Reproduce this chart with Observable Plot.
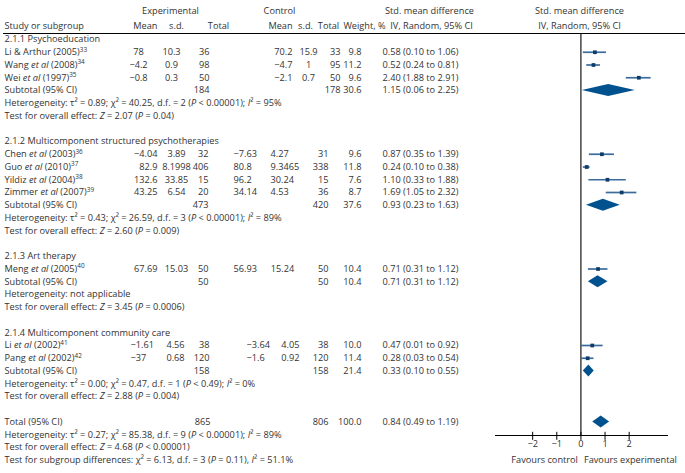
<!DOCTYPE html>
<html><head><meta charset="utf-8">
<script src="https://cdn.jsdelivr.net/npm/d3@7"></script>
<script src="https://cdn.jsdelivr.net/npm/@observablehq/plot@0.6"></script>
<style>
body{margin:0;background:#fff}
#chart{width:685px;height:473px}
</style>
</head><body><div id="chart"></div>
<script>
// ---------------- DATA ----------------
const groupNames = ["2.1.1 Psychoeducation", "2.1.2 Multicomponent structured psychotherapies", "2.1.3 Art therapy", "2.1.4 Multicomponent community care"];
const studyNames = ["Li & Arthur (2005)", "Wang et al (2008)", "Wei et al (1997)", "Chen et al (2003)", "Guo et al (2010)", "Yildiz et al (2004)", "Zimmer et al (2007)", "Meng et al (2005)", "Li et al (2002)", "Pang et al (2002)"];
const studyRefs = [33, 34, 35, 36, 37, 38, 39, 40, 41, 42];
const studyGroup = [0, 0, 0, 1, 1, 1, 1, 2, 3, 3];
const expMean = [78, -4.2, -0.8, -4.04, 82.9, 132.6, 43.25, 67.69, -1.61, -37];
const expSd = [10.3, 0.9, 0.3, 3.89, 8.1998, 33.85, 6.54, 15.03, 4.56, 0.68];
const expN = [36, 98, 50, 32, 406, 15, 20, 50, 38, 120];
const ctlMean = [70.2, -4.7, -2.1, -7.63, 80.8, 96.2, 34.14, 56.93, -3.64, -1.6];
const ctlSd = [15.9, 1, 0.7, 4.27, 9.3465, 30.24, 4.53, 15.24, 4.05, 0.92];
const ctlN = [33, 95, 50, 31, 338, 15, 36, 50, 38, 120];
const weights = [9.8, 11.2, 9.6, 9.6, 11.8, 7.6, 8.7, 10.4, 10.0, 11.4];
const smd = [0.58, 0.52, 2.40, 0.87, 0.24, 1.10, 1.69, 0.71, 0.47, 0.28];
const ciLow = [0.10, 0.24, 1.88, 0.35, 0.10, 0.33, 1.05, 0.31, 0.01, 0.03];
const ciHigh = [1.06, 0.81, 2.91, 1.39, 0.38, 1.88, 2.32, 1.12, 0.92, 0.54];

const subExpN = [184, 473, 50, 158];
const subCtlN = [178, 420, 50, 158];
const subWeight = [30.6, 37.6, 10.4, 21.4];
const subSmd = [1.15, 0.93, 0.71, 0.33];
const subLow = [0.06, 0.23, 0.31, 0.10];
const subHigh = [2.25, 1.63, 1.12, 0.55];
const subHet = [
  "Heterogeneity: τ² = 0.89; χ² = 40.25, d.f. = 2 (P < 0.00001); I² = 95%",
  "Heterogeneity: τ² = 0.43; χ² = 26.59, d.f. = 3 (P < 0.00001); I² = 89%",
  "Heterogeneity: not applicable",
  "Heterogeneity: τ² = 0.00; χ² = 0.47, d.f. = 1 (P < 0.49); I² = 0%"
];
const subTest = [
  "Test for overall effect: Z = 2.07 (P = 0.04)",
  "Test for overall effect: Z = 2.60 (P = 0.009)",
  "Test for overall effect: Z = 3.45 (P = 0.0006)",
  "Test for overall effect: Z = 2.88 (P = 0.004)"
];
const totalExpN = 865, totalCtlN = 806, totalWeight = 100.0;
const totalSmd = 0.84, totalLow = 0.49, totalHigh = 1.19;
const totalTexts = [
  "Heterogeneity: τ² = 0.27; χ² = 85.38, d.f. = 9 (P < 0.00001); I² = 89%",
  "Test for overall effect: Z = 4.68 (P < 0.00001)",
  "Test for subgroup differences: χ² = 6.13, d.f. = 3 (P = 0.11), I² = 51.1%"
];
const xTicks = [-2, -1, 0, 1, 2];
const headerTop = ["Experimental", "Control", "Std. mean difference", "Std. mean difference"];
const headerCols = ["Study or subgroup", "Mean", "s.d.", "Total", "Mean", "s.d.", "Total", "Weight, %", "IV, Random, 95% CI", "IV, Random, 95% CI"];
const favourLabels = ["Favours control", "Favours experimental"];

// ---------------- LAYOUT (positions / styles) ----------------
const xDomain = [-3.54, 3.63];
const xRange = [495, 668];
const rowStep = 12.75, row0 = 39, lastRow = 33;
const axisRow = 31.06, headerLineRow = -0.47, topHeaderRow = -2.2, colHeaderRow = -1.02;
const lineColor = "#3a6c9c", squareColor = "#0d3c69", diamondColor = "#00528f";
const textColor = "#333333";
const topHeaderLayout = [[170, "middle"], [279, "middle"], [429, "middle"], [579, "middle"]];
const colHeaderLayout = [[4, "start"], [157, "end"], [176, "middle"], [218, "middle"], [280, "middle"], [305, "middle"], [328, "middle"], [364, "middle"], [431, "middle"], [579, "middle"]];
const colLayouts = {
  g0: {eMean: [138, "middle"], eSd: [171, "middle"], eN: [209, "end"], cMean: [292, "end"], cSd: [308, "middle"], cN: [340, "end"], w: [361, "end"], ci: [382, "start"]},
  g1: {eMean: [157, "end"], eSd: [176, "middle"], eN: [208, "end"], cMean: [233, "start"], cSd: [270, "start"], cN: [328, "end"], w: [361, "end"], ci: [382, "start"]},
  g2: {eMean: [157, "end"], eSd: [176, "middle"], eN: [208, "end"], cMean: [233, "start"], cSd: [282, "middle"], cN: [328, "end"], w: [361, "end"], ci: [382, "start"]},
  g3: {eMean: [130, "start"], eSd: [175, "middle"], eN: [209, "end"], cMean: [246, "start"], cSd: [299, "end"], cN: [328, "end"], w: [361, "end"], ci: [382, "start"]},
  total: {eN: [210, "end"], cN: [328, "end"], w: [361, "end"], ci: [382, "start"]}
};

// ---------------- TABLE BUILD ----------------
const fmt = v => String(v).replace("-", "−");
const ciText = (m, l, h) => `${m.toFixed(2)} (${l.toFixed(2)} to ${h.toFixed(2)})`;
const rows = [];
const refByLabel = new Map();
let r = 0;
groupNames.forEach((gname, g) => {
  rows.push({row: r, label: gname, lay: "g" + g});
  r++;
  studyNames.forEach((name, i) => {
    if (studyGroup[i] !== g) return;
    refByLabel.set(name, studyRefs[i]);
    rows.push({row: r, label: name, lay: "g" + g, study: true,
      eMean: fmt(expMean[i]), eSd: fmt(expSd[i]), eN: String(expN[i]),
      cMean: fmt(ctlMean[i]), cSd: fmt(ctlSd[i]), cN: String(ctlN[i]),
      w: weights[i].toFixed(1), ci: ciText(smd[i], ciLow[i], ciHigh[i]),
      est: smd[i], lo: ciLow[i], hi: ciHigh[i]});
    r++;
  });
  rows.push({row: r, label: "Subtotal (95% CI)", lay: "g" + g, diamond: true,
    eN: String(subExpN[g]), cN: String(subCtlN[g]), w: subWeight[g].toFixed(1),
    ci: ciText(subSmd[g], subLow[g], subHigh[g]), est: subSmd[g], lo: subLow[g], hi: subHigh[g]});
  r++;
  rows.push({row: r, label: subHet[g], lay: "g" + g}); r++;
  rows.push({row: r, label: subTest[g], lay: "g" + g}); r++;
  r++; // blank row
});
rows.push({row: r, label: "Total (95% CI)", lay: "total", diamond: true,
  eN: String(totalExpN), cN: String(totalCtlN), w: totalWeight.toFixed(1),
  ci: ciText(totalSmd, totalLow, totalHigh), est: totalSmd, lo: totalLow, hi: totalHigh});
r++;
totalTexts.forEach(t => { rows.push({row: r, label: t, lay: "total"}); r++; });

const studyRows = rows.filter(d => d.study);
const diamondRows = rows.filter(d => d.diamond);
const dh = 0.47;
const diamondPts = diamondRows.flatMap((d, k) => [
  {id: k, y: d.row - dh, x1: d.est, x2: d.est},
  {id: k, y: d.row, x1: d.lo, x2: d.hi},
  {id: k, y: d.row + dh, x1: d.est, x2: d.est}
]);

// ---------------- MARKS ----------------
const marks = [];
marks.push(Plot.ruleY([headerLineRow], {stroke: "#000", strokeWidth: 1, insetLeft: 3}));
headerTop.forEach((t, i) => marks.push(Plot.text([t], {y: [topHeaderRow], text: d => d, frameAnchor: "left", dx: topHeaderLayout[i][0], textAnchor: topHeaderLayout[i][1], fill: textColor})));
headerCols.forEach((t, i) => marks.push(Plot.text([t], {y: [colHeaderRow], text: d => d, frameAnchor: "left", dx: colHeaderLayout[i][0], textAnchor: colHeaderLayout[i][1], fill: textColor})));
marks.push(Plot.text(rows, {y: "row", text: "label", frameAnchor: "left", dx: 4, textAnchor: "start", fill: textColor}));
for (const [lay, cols] of Object.entries(colLayouts)) {
  for (const [col, [x, anchor]] of Object.entries(cols)) {
    const data = rows.filter(d => d.lay === lay && d[col] != null);
    marks.push(Plot.text(data, {y: "row", text: col, frameAnchor: "left", dx: x, textAnchor: anchor, fill: textColor}));
  }
}
marks.push(Plot.ruleX([0], {y1: headerLineRow, y2: axisRow, stroke: "#000", strokeWidth: 1.1}));
marks.push(Plot.ruleY([axisRow], {x1: xDomain[0], x2: xDomain[1], stroke: "#000", strokeWidth: 1.1}));
marks.push(Plot.ruleX(xTicks, {x: d => d, y1: axisRow - 0.25, y2: axisRow + 0.38, stroke: "#000", strokeWidth: 1}));
marks.push(Plot.text(xTicks, {x: d => d, y: axisRow, dy: 9, text: d => fmt(d), fill: textColor}));
marks.push(Plot.text([favourLabels[0]], {x: [0], y: [lastRow], text: d => d, textAnchor: "end", dx: -3, fill: textColor}));
marks.push(Plot.text([favourLabels[1]], {x: [0], y: [lastRow], text: d => d, textAnchor: "start", dx: 3, fill: textColor}));
marks.push(Plot.ruleY(studyRows, {y: "row", x1: "lo", x2: "hi", stroke: lineColor, strokeWidth: 1.7}));
marks.push(Plot.dot(studyRows, {x: "est", y: "row", symbol: "square", r: 2.1, fill: squareColor, stroke: "none"}));
marks.push(Plot.areaX(diamondPts, {y: "y", x1: "x1", x2: "x2", z: "id", fill: diamondColor, curve: "linear"}));

const chart = Plot.plot({
  width: 685, height: 473,
  marginLeft: 0, marginRight: 0, marginTop: 0, marginBottom: 0,
  x: {domain: xDomain, range: xRange, axis: null},
  y: {domain: [0, lastRow], range: [row0, row0 + rowStep * lastRow], axis: null},
  style: {fontFamily: "'Open Sans', 'Noto Sans', sans-serif", fontSize: "9.2px", fontWeight: 400, background: "#fff", overflow: "visible"},
  marks
});

// ---------------- RICH TEXT (italics, superscripts) ----------------
const NS = "http://www.w3.org/2000/svg";
d3.select(chart).selectAll("text").each(function () {
  const el = this;
  if (el.querySelector("tspan")) return;
  const s = el.textContent;
  const re = /(et al|\bP\b|\bZ\b|\bI(?=²))/g;
  if (!re.test(s) && !refByLabel.has(s)) return;
  re.lastIndex = 0;
  el.textContent = "";
  let last = 0, m;
  while ((m = re.exec(s))) {
    if (m.index > last) el.appendChild(document.createTextNode(s.slice(last, m.index)));
    const t = document.createElementNS(NS, "tspan");
    t.setAttribute("font-style", "italic");
    t.textContent = m[0];
    el.appendChild(t);
    last = m.index + m[0].length;
  }
  if (last < s.length) el.appendChild(document.createTextNode(s.slice(last)));
  if (refByLabel.has(s)) {
    const sup = document.createElementNS(NS, "tspan");
    sup.setAttribute("font-size", "6.4px");
    sup.setAttribute("dy", "-0.55em");
    sup.textContent = refByLabel.get(s);
    el.appendChild(sup);
  }
});
document.getElementById("chart").appendChild(chart);
</script>
</body></html>
